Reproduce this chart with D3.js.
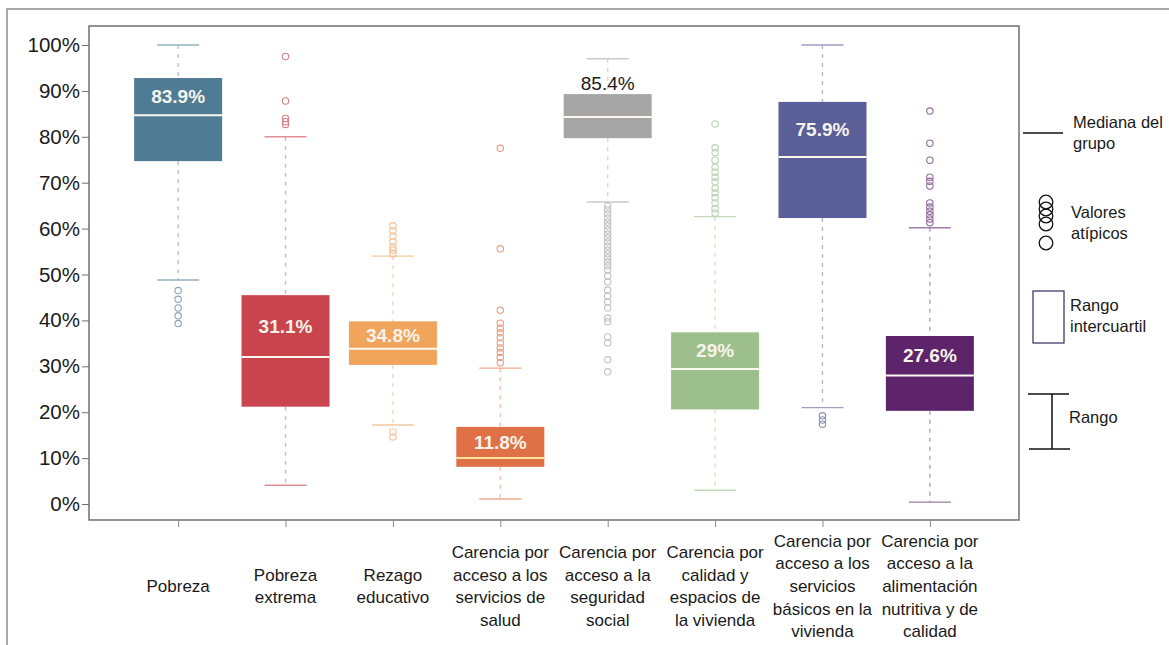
<!DOCTYPE html>
<html>
<head>
<meta charset="utf-8">
<script src="https://cdn.jsdelivr.net/npm/d3@7"></script>
<style>
  html, body { margin: 0; padding: 0; background: #fff; }
  svg { display: block; font-family: "Liberation Sans", Arial, sans-serif; }
</style>
</head>
<body>
<svg id="chart" width="1169" height="645"></svg>
<script>
// ---------------- data (percent) ----------------
const categories = [
  "Pobreza",
  "Pobreza extrema",
  "Rezago educativo",
  "Carencia por acceso a los servicios de salud",
  "Carencia por acceso a la seguridad social",
  "Carencia por calidad y espacios de la vivienda",
  "Carencia por acceso a los servicios básicos en la vivienda",
  "Carencia por acceso a la alimentación nutritiva y de calidad"
];
const categoryLines = [
  ["Pobreza"],
  ["Pobreza", "extrema"],
  ["Rezago", "educativo"],
  ["Carencia por", "acceso a los", "servicios de", "salud"],
  ["Carencia por", "acceso a la", "seguridad", "social"],
  ["Carencia por", "calidad y", "espacios de", "la vivienda"],
  ["Carencia por", "acceso a los", "servicios", "básicos en la", "vivienda"],
  ["Carencia por", "acceso a la", "alimentación", "nutritiva y de", "calidad"]
];
const whiskerLow  = [48.8,  4.1, 17.2,  1.1, 65.8,  3.0, 21.0,  0.4];
const q1          = [74.7, 21.2, 30.3,  8.1, 79.7, 20.6, 62.3, 20.3];
const median      = [84.7, 32.0, 33.8, 10.0, 84.3, 29.4, 75.6, 28.0];
const q3          = [92.8, 45.5, 39.8, 16.8, 89.3, 37.4, 87.6, 36.6];
const whiskerHigh = [100.0, 80.0, 54.0, 29.6, 97.0, 62.6, 100.0, 60.2];
const medianLabels = ["83.9%", "31.1%", "34.8%", "11.8%", "85.4%", "29%", "75.9%", "27.6%"];
const outliers = [
  [46.5, 44.6, 42.7, 41.0, 39.3],
  [97.5, 87.8, 84.0, 83.3, 82.7],
  [60.6, 59.5, 58.4, 57.1, 56.0, 55.3, 54.5, 15.7, 14.6],
  [77.5, 55.6, 42.2, 39.4, 38.3, 37.3, 36.2, 35.1, 34.0, 33.0, 31.9, 30.8],
  [64.9, 64.1, 63.2, 62.3, 61.4, 60.6, 59.7, 58.8, 58.0, 57.1, 56.2, 55.3, 54.5, 53.6, 52.7,
   51.9, 51.0, 49.7, 48.4, 46.6, 45.3, 44.0, 42.7, 40.5, 39.7, 36.4, 35.1, 31.4, 28.8],
  [82.8, 77.6, 76.5, 74.9, 73.4, 72.3, 71.2, 70.2, 68.8, 67.8, 66.7, 65.6, 64.3, 63.4],
  [19.2, 18.3, 17.4],
  [85.6, 78.6, 74.9, 71.2, 70.3, 69.3, 65.6, 64.7, 63.8, 63.0, 62.1, 61.3]
];
const yTicks = [0, 10, 20, 30, 40, 50, 60, 70, 80, 90, 100];
const legendItems = [["Mediana del", "grupo"], ["Valores", "atípicos"], ["Rango", "intercuartil"], ["Rango"]];

// ---------------- styles ----------------
const boxColors = ["#4f7b95", "#c9444c", "#f0a45c", "#e07046", "#a6a6a6", "#9dbf8c", "#5b5f97", "#5e246b"];
const outsideLabel = new Set([4]);

// ---------------- drawing ----------------
const svg = d3.select("#chart");
const plot = { left: 89, right: 1019, top: 26, bottom: 520 };

const y = d3.scaleLinear().domain([0, 100]).range([504, 45]);
const x = d3.scalePoint().domain(categories).range([plot.left, plot.right]).padding(0.83);
const boxW = 88;
const capW = 42;

// outer frame
svg.append("path")
  .attr("d", "M7,645V9H1169")
  .attr("fill", "none").attr("stroke", "#a8a8a8").attr("stroke-width", 2);

// plot frame
svg.append("rect")
  .attr("x", plot.left).attr("y", plot.top)
  .attr("width", plot.right - plot.left).attr("height", plot.bottom - plot.top)
  .attr("fill", "none").attr("stroke", "#707070").attr("stroke-width", 1.5);

// y axis
const yAxis = svg.append("g")
  .attr("transform", `translate(${plot.left},0)`)
  .call(d3.axisLeft(y).tickValues(yTicks).tickSize(7).tickPadding(2).tickFormat(d => d + "%"));
yAxis.select(".domain").remove();
yAxis.selectAll(".tick line").attr("stroke", "#707070");
yAxis.selectAll(".tick text").attr("font-size", 20.5).attr("fill", "#1a1a1a")
  .attr("font-family", "Liberation Sans, Arial, sans-serif");

// x axis
const xAxis = svg.append("g")
  .attr("transform", `translate(0,${plot.bottom})`)
  .call(d3.axisBottom(x).tickSize(7).tickFormat(""));
xAxis.select(".domain").remove();
xAxis.selectAll(".tick line").attr("stroke", "#8a8a8a");

// category labels
const lineH = 22.7;
categories.forEach((c, i) => {
  const lines = categoryLines[i];
  const first = 586 - (lines.length - 1) * lineH / 2;
  const t = svg.append("text")
    .attr("text-anchor", "middle")
    .attr("font-size", 17)
    .attr("fill", "#1a1a1a");
  lines.forEach((ln, j) => {
    t.append("tspan").attr("x", x(c)).attr("y", first + j * lineH).attr("dy", "0.35em").text(ln);
  });
});

// boxes
const boxes = svg.append("g");
categories.forEach((c, i) => {
  const cx = x(c);
  const col = d3.color(boxColors[i]);
  const dashCol = d3.interpolateRgb(boxColors[i], "#ffffff")(0.55);
  const capCol = d3.interpolateRgb(boxColors[i], "#ffffff")(0.4);
  const outCol = d3.interpolateRgb(boxColors[i], "#ffffff")(0.32);
  const g = boxes.append("g");

  // whiskers
  g.append("line").attr("x1", cx).attr("x2", cx)
    .attr("y1", y(whiskerHigh[i])).attr("y2", y(q3[i]))
    .attr("stroke", dashCol).attr("stroke-width", 1.4).attr("stroke-dasharray", "4,5");
  g.append("line").attr("x1", cx).attr("x2", cx)
    .attr("y1", y(q1[i])).attr("y2", y(whiskerLow[i]))
    .attr("stroke", dashCol).attr("stroke-width", 1.4).attr("stroke-dasharray", "4,5");
  [whiskerHigh[i], whiskerLow[i]].forEach(v => {
    g.append("line").attr("x1", cx - capW / 2).attr("x2", cx + capW / 2)
      .attr("y1", y(v)).attr("y2", y(v))
      .attr("stroke", capCol).attr("stroke-width", 1.4);
  });

  // outliers
  g.selectAll("circle.out").data(outliers[i]).enter().append("circle")
    .attr("class", "out")
    .attr("cx", cx).attr("cy", d => y(d)).attr("r", 3.2)
    .attr("fill", "none").attr("stroke", outCol).attr("stroke-width", 1.1);

  // box
  g.append("rect")
    .attr("x", cx - boxW / 2).attr("y", y(q3[i]))
    .attr("width", boxW).attr("height", y(q1[i]) - y(q3[i]))
    .attr("fill", col.formatHex());

  // median
  g.append("line").attr("x1", cx - boxW / 2).attr("x2", cx + boxW / 2)
    .attr("y1", y(median[i])).attr("y2", y(median[i]))
    .attr("stroke", i === 3 ? "#ffe49a" : "#fbf8ee").attr("stroke-width", 2);

  // label
  if (outsideLabel.has(i)) {
    g.append("text").attr("x", cx).attr("y", y(q3[i]) - 11)
      .attr("text-anchor", "middle").attr("dy", "0.35em")
      .attr("font-size", 19).attr("fill", "#1a1a1a").text(medianLabels[i]);
  } else {
    g.append("text").attr("x", cx).attr("y", (y(q3[i]) + y(median[i])) / 2)
      .attr("text-anchor", "middle").attr("dy", "0.35em")
      .attr("font-size", 19).attr("font-weight", "bold").attr("fill", "#f6f3ea").text(medianLabels[i]);
  }
});

// legend
const lg = svg.append("g").attr("font-size", 16.5).attr("fill", "#1a1a1a");
// median
lg.append("line").attr("x1", 1023).attr("x2", 1063).attr("y1", 133).attr("y2", 133)
  .attr("stroke", "#111").attr("stroke-width", 1.5);
// outlier icons
[202, 209, 216, 224, 243].forEach(cy => {
  lg.append("circle").attr("cx", 1046).attr("cy", cy).attr("r", 6.8)
    .attr("fill", "none").attr("stroke", "#111").attr("stroke-width", 1.3);
});
// IQR
lg.append("rect").attr("x", 1033).attr("y", 291).attr("width", 31).attr("height", 52)
  .attr("fill", "none").attr("stroke", "#3d3d6b").attr("stroke-width", 1.3);
// range
lg.append("path").attr("d", "M1028,394H1069M1052,394V449M1029,449H1070")
  .attr("fill", "none").attr("stroke", "#111").attr("stroke-width", 1.5);

const legendPos = [[1073, 122], [1071, 212], [1070, 305], [1069, 417]];
legendItems.forEach((lines, i) => {
  const t = lg.append("text");
  lines.forEach((ln, j) => {
    t.append("tspan").attr("x", legendPos[i][0]).attr("y", legendPos[i][1] + j * 21.5)
      .attr("dy", "0.35em").text(ln);
  });
});
</script>
</body>
</html>
